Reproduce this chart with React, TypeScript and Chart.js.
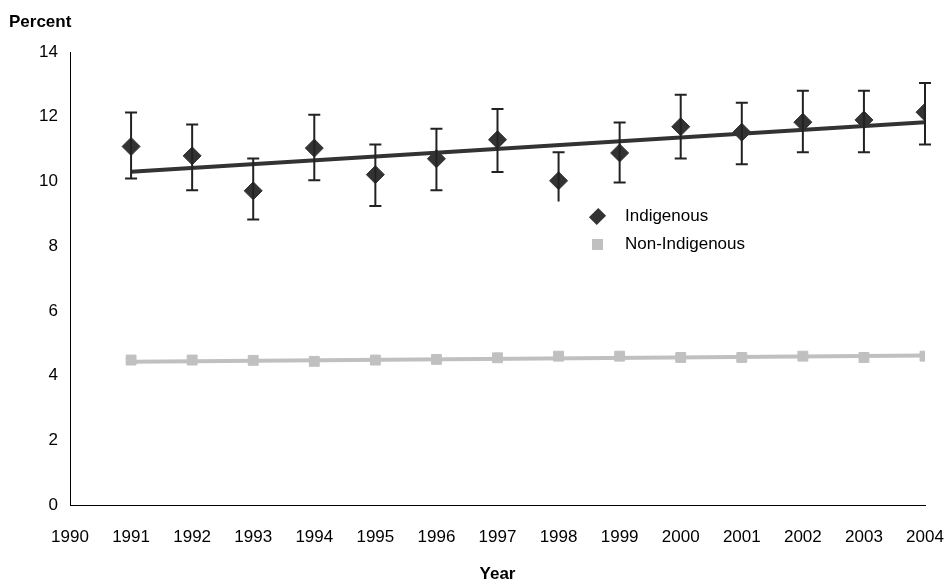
import { useEffect, useRef } from 'react'
import { Chart, registerables } from 'chart.js'

Chart.register(...registerables)

const years = [1991, 1992, 1993, 1994, 1995, 1996, 1997, 1998, 1999, 2000, 2001, 2002, 2003, 2004]
const indigenous = [11.08, 10.79, 9.71, 11.03, 10.21, 10.7, 11.29, 10.02, 10.88, 11.69, 11.52, 11.83, 11.9, 12.14]
const indigenousHigh = [12.13, 11.76, 10.71, 12.06, 11.14, 11.63, 12.24, 10.9, 11.82, 12.68, 12.43, 12.8, 12.8, 13.04]
const indigenousLow = [10.09, 9.73, 8.82, 10.04, 9.24, 9.73, 10.29, 9.38, 9.97, 10.71, 10.53, 10.9, 10.9, 11.14]
const nonIndigenous = [4.48, 4.48, 4.47, 4.44, 4.48, 4.5, 4.55, 4.6, 4.6, 4.56, 4.56, 4.6, 4.56, 4.6]
const indigenousTrend = [10.3, 11.83]
const nonIndigenousTrend = [4.43, 4.62]

const errorBars = {
  id: 'errorBars',
  afterDatasetsDraw(chart: any) {
    const { ctx, scales } = chart
    ctx.save()
    ctx.strokeStyle = '#222'
    ctx.lineWidth = 2
    years.forEach((yr, i) => {
      const x = scales.x.getPixelForValue(yr)
      const t = scales.y.getPixelForValue(indigenousHigh[i])
      const b = scales.y.getPixelForValue(indigenousLow[i])
      ctx.beginPath()
      ctx.moveTo(x, t); ctx.lineTo(x, b)
      ctx.moveTo(x - 6, t); ctx.lineTo(x + 6, t)
      if (yr !== 1998) { ctx.moveTo(x - 6, b); ctx.lineTo(x + 6, b) }
      ctx.stroke()
    })
    ctx.restore()
  }
}

const font = 'Liberation Sans, Arial, sans-serif'

export default function App() {
  const ref = useRef<HTMLCanvasElement>(null)

  useEffect(() => {
    document.body.style.margin = '0'
    if (!ref.current) return
    const chart = new Chart(ref.current, {
      type: 'scatter',
      data: {
        datasets: [
          {
            label: 'Indigenous trend', type: 'line',
            data: [{ x: years[0], y: indigenousTrend[0] }, { x: years[years.length - 1], y: indigenousTrend[1] }],
            borderColor: '#333', borderWidth: 4, pointRadius: 0, order: 3
          },
          {
            label: 'Non-Indigenous trend', type: 'line',
            data: [{ x: years[0], y: nonIndigenousTrend[0] }, { x: years[years.length - 1], y: nonIndigenousTrend[1] }],
            borderColor: '#c0c0c0', borderWidth: 4, pointRadius: 0, order: 3
          },
          {
            label: 'Indigenous',
            data: years.map((x, i) => ({ x, y: indigenous[i] })),
            backgroundColor: '#333', borderColor: '#333', pointStyle: 'rectRot', pointRadius: 9, order: 1
          },
          {
            label: 'Non-Indigenous',
            data: years.map((x, i) => ({ x, y: nonIndigenous[i] })),
            backgroundColor: '#c0c0c0', borderColor: '#c0c0c0', pointStyle: 'rect', pointRadius: 7, order: 2
          }
        ]
      },
      options: {
        animation: false,
        responsive: false,
        layout: { padding: { top: 52, right: 25, bottom: 0, left: 0 } },
        plugins: { legend: { display: false }, tooltip: { enabled: false } },
        scales: {
          x: {
            type: 'linear', min: 1990, max: 2004,
            ticks: { stepSize: 1, color: '#000', font: { family: font, size: 17 }, callback: (v: any) => String(v), padding: 16, maxRotation: 0, autoSkip: false },
            grid: { display: false, drawTicks: true, tickLength: 6 },
            border: { color: '#000' },
            title: { display: true, text: 'Year', color: '#000', font: { family: font, size: 17, weight: 'bold' }, padding: { top: 16, bottom: 2 } },
            afterFit: (s: any) => { s.height = 82; s.paddingRight = 0; s.paddingLeft = 0 }
          },
          y: {
            min: 0, max: 14,
            ticks: { stepSize: 2, color: '#000', font: { family: font, size: 17 }, padding: 6 },
            grid: { display: false, tickLength: 6 },
            border: { color: '#000' },
            afterFit: (s: any) => { s.width = 70 }
          }
        }
      },
      plugins: [errorBars]
    })
    return () => chart.destroy()
  }, [])

  return (
    <div style={{ position: 'relative', width: 950, height: 587, fontFamily: font, background: '#fff' }}>
      <canvas ref={ref} width={950} height={587} />
      <div style={{ position: 'absolute', left: 9, top: 12, fontWeight: 'bold', fontSize: 17 }}>Percent</div>
      <div style={{ position: 'absolute', left: 592, top: 202, fontSize: 17, lineHeight: '28px' }}>
        <div style={{ display: 'flex', alignItems: 'center' }}>
          <span style={{ width: 11, height: 11, background: '#333', transform: 'rotate(45deg) scaleY(1.2)', display: 'inline-block', marginRight: 22 }} />Indigenous
        </div>
        <div style={{ display: 'flex', alignItems: 'center' }}>
          <span style={{ width: 11, height: 11, background: '#c0c0c0', display: 'inline-block', marginRight: 22 }} />Non-Indigenous
        </div>
      </div>
    </div>
  )
}
